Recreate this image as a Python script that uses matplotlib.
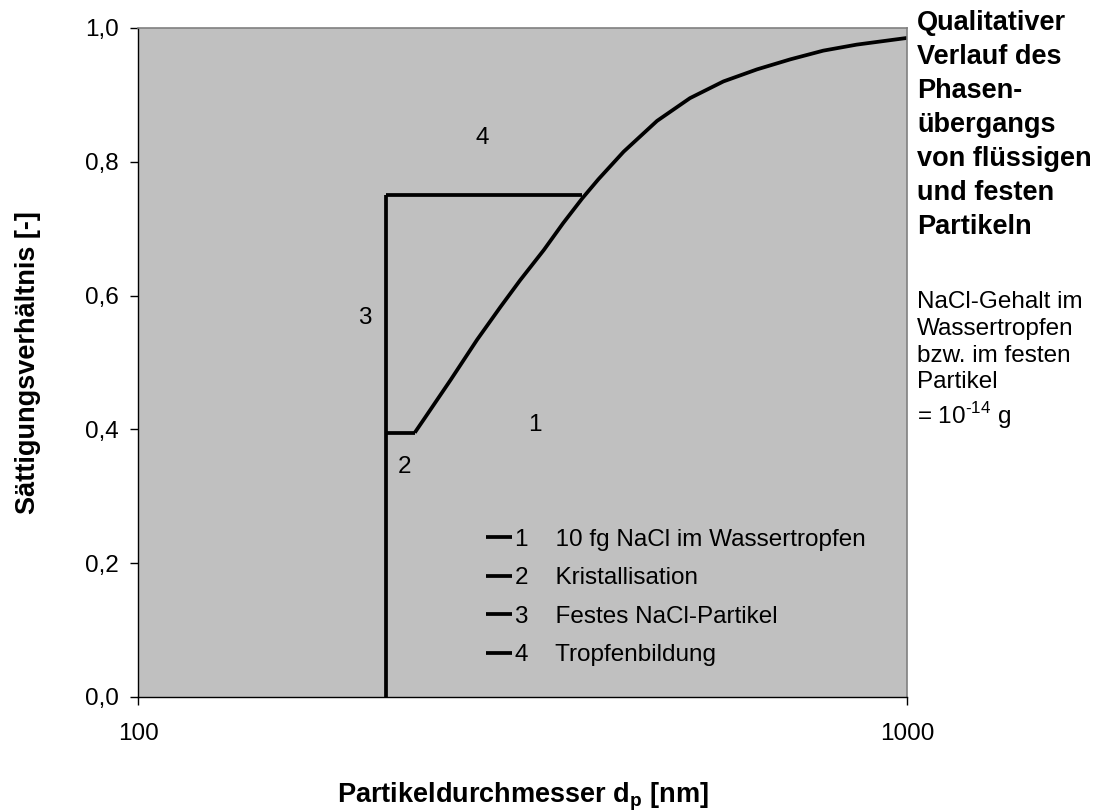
import numpy as np
import matplotlib
matplotlib.use("Agg")
import matplotlib.pyplot as plt
from matplotlib.ticker import FixedLocator, NullLocator

plt.rcParams['font.family'] = ['Liberation Sans', 'DejaVu Sans']
plt.rcParams['mathtext.fontset'] = 'custom'
plt.rcParams['mathtext.rm'] = 'Liberation Sans'
plt.rcParams['mathtext.bf'] = 'Liberation Sans:bold'

# 1: droplet with 10 fg NaCl (diameter in nm, saturation ratio)
d_drop = [229, 236, 255, 276, 296, 314, 337, 357, 378, 397, 428, 473, 522,
          577, 638, 705, 778, 860, 1000]
s_drop = [0.395, 0.417, 0.474, 0.534, 0.583, 0.623, 0.668, 0.708, 0.745, 0.774,
          0.815, 0.861, 0.895, 0.920, 0.938, 0.953, 0.966, 0.975, 0.985]
# 2: crystallisation
d_cryst = [229, 210]
s_cryst = [0.395, 0.395]
# 3: solid NaCl particle
d_solid = [210, 210]
s_solid = [0.0, 0.75]
# 4: droplet formation
d_form = [210, 378]
s_form = [0.75, 0.75]

legend_labels = [
    "1    10 fg NaCl im Wassertropfen",
    "2    Kristallisation",
    "3    Festes NaCl-Partikel",
    "4    Tropfenbildung",
]
y_ticks = [0.0, 0.2, 0.4, 0.6, 0.8, 1.0]
y_ticklabels = ["0,0", "0,2", "0,4", "0,6", "0,8", "1,0"]

fig = plt.figure(figsize=(11.13, 8.11), dpi=100)
ax = fig.add_axes([0.124, 0.1406, 0.691, 0.825])
ax.set_facecolor("#C0C0C0")

lw = 2.7
lines = []
for d, s in [(d_drop, s_drop), (d_cryst, s_cryst), (d_solid, s_solid), (d_form, s_form)]:
    l, = ax.plot(d, s, color="black", lw=lw, solid_capstyle="butt", solid_joinstyle="round")
    lines.append(l)

ax.set_xscale("log")
ax.set_xlim(100, 1000)
ax.set_ylim(0, 1)
ax.xaxis.set_major_locator(FixedLocator([100, 1000]))
ax.xaxis.set_minor_locator(NullLocator())
ax.set_xticklabels(["100", "1000"])
ax.set_yticks(y_ticks)
ax.set_yticklabels(y_ticklabels)
ax.tick_params(axis="both", direction="out", length=6, width=1, labelsize=17.5, colors="black")
ax.tick_params(axis="x", pad=13)
ax.tick_params(axis="y", pad=8)

for side in ("top", "right"):
    ax.spines[side].set_color("#808080")
    ax.spines[side].set_linewidth(1.2)
for side in ("left", "bottom"):
    ax.spines[side].set_color("black")
    ax.spines[side].set_linewidth(1.0)

ax.set_ylabel("Sättigungsverhältnis [-]", fontsize=19.5, fontweight="bold")
ax.yaxis.set_label_coords(-0.1256, 0.5)
ax.set_xlabel("Partikeldurchmesser d$_\\mathbf{p}$ [nm]", fontsize=19.5, fontweight="bold")
ax.xaxis.set_label_coords(0.5, -0.125)

# curve numbers
ax.text(280, 0.836, "4", fontsize=17.5, ha="center", va="center")
ax.text(197, 0.566, "3", fontsize=17.5, ha="center", va="center")
ax.text(328, 0.407, "1", fontsize=17.5, ha="center", va="center")
ax.text(222, 0.344, "2", fontsize=17.5, ha="center", va="center")

leg = ax.legend(lines, legend_labels, loc="lower left", bbox_to_anchor=(0.4525, 0.046),
                frameon=False, fontsize=17.5, handlelength=1.07, handletextpad=0.12,
                labelspacing=0.68, borderpad=0, borderaxespad=0)

fig.text(0.824, 0.988, "Qualitativer\nVerlauf des\nPhasen-\nübergangs\nvon flüssigen\nund festen\nPartikeln",
         fontsize=19.5, fontweight="bold", ha="left", va="top", linespacing=1.4)
fig.text(0.824, 0.641, "NaCl-Gehalt im\nWassertropfen\nbzw. im festen\nPartikel\n= 10$^{\\text{-14}}$ g",
         fontsize=17.5, ha="left", va="top", linespacing=1.28)

fig.savefig("out.png", dpi=100)
